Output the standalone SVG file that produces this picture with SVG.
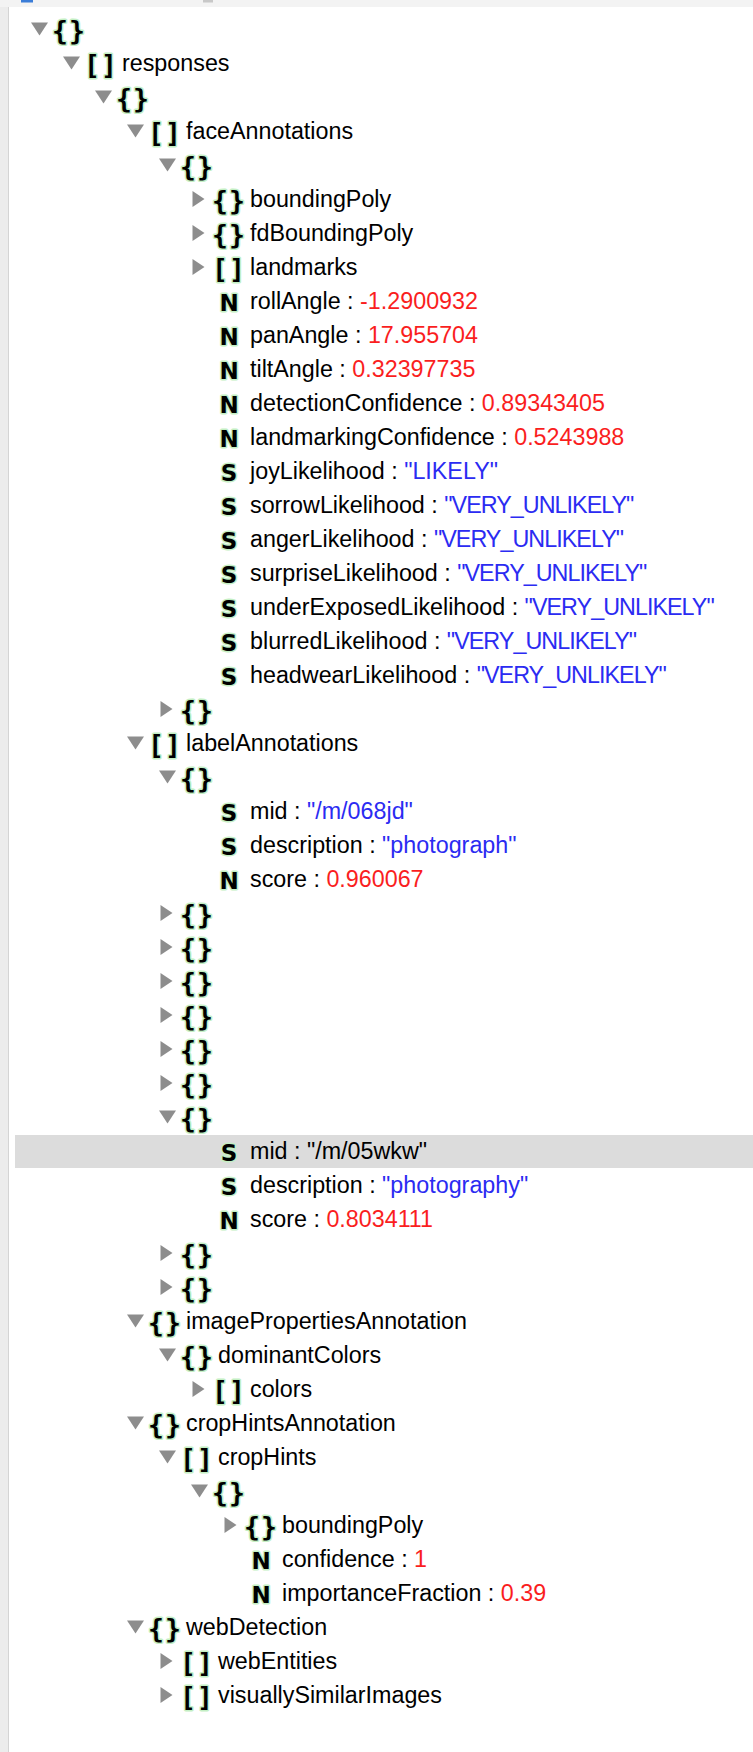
<svg xmlns="http://www.w3.org/2000/svg" xmlns:xlink="http://www.w3.org/1999/xlink" width="753" height="1752" viewBox="0 0 753 1752">
<style>
.tri{fill:#8d8d8d}
.br{font-family:"DejaVu Sans Mono",monospace;font-weight:bold;font-size:26.5px;fill:#000;stroke:#c4efc4;stroke-width:3;paint-order:stroke;stroke-linejoin:round;text-anchor:middle}
.ty{font-family:"DejaVu Sans",sans-serif;font-weight:bold;font-size:23px;fill:#000;stroke:#c4efc4;stroke-width:3;paint-order:stroke;stroke-linejoin:round;text-anchor:middle}
.lb{font-family:"Liberation Sans",Arial,sans-serif;font-size:23.3px;fill:#000}
.num{fill:#fa1e1e}
.str{fill:#2b2bf2}
.vu{letter-spacing:-0.95px}
</style>
<defs>
<path id="td" d="M-8.5,-6.5H8.5L0,6.5Z"/>
<path id="tr" d="M-6,-8V8L6,0Z"/>
</defs>
<rect x="0" y="0" width="753" height="1752" fill="#ffffff"/>
<rect x="0" y="0" width="753" height="7" fill="#f3f3f3"/>
<rect x="21" y="0" width="12" height="2.5" fill="#3b7dd8"/>
<rect x="203" y="0" width="10" height="2.5" fill="#c8c8c8"/>
<rect x="0" y="7" width="8" height="1745" fill="#ececec"/>
<rect x="8" y="7" width="1" height="1745" fill="#d4d4d4"/>
<rect id="selection" x="15" y="1135" width="738" height="33" fill="#dcdcdc"/>
<g id="connectors"></g>
<g id="n1" transform="translate(0,29)"><use href="#td" x="39.5" class="tri"/><text class="br" x="60" y="10.5">{</text><text class="br" x="77" y="10.5">}</text></g>
<g id="n2" transform="translate(32,63)"><use href="#td" x="39.5" class="tri"/><text class="br" x="60" y="10.5">[</text><text class="br" x="77" y="10.5">]</text><text class="lb" x="90" y="8">responses</text></g>
<g id="n3" transform="translate(64,97)"><use href="#td" x="39.5" class="tri"/><text class="br" x="60" y="10.5">{</text><text class="br" x="77" y="10.5">}</text></g>
<g id="n4" transform="translate(96,131)"><use href="#td" x="39.5" class="tri"/><text class="br" x="60" y="10.5">[</text><text class="br" x="77" y="10.5">]</text><text class="lb" x="90" y="8">faceAnnotations</text></g>
<g id="n5" transform="translate(128,165)"><use href="#td" x="39.5" class="tri"/><text class="br" x="60" y="10.5">{</text><text class="br" x="77" y="10.5">}</text></g>
<g id="n6" transform="translate(160,199)"><use href="#tr" x="38.5" class="tri"/><text class="br" x="60" y="10.5">{</text><text class="br" x="77" y="10.5">}</text><text class="lb" x="90" y="8">boundingPoly</text></g>
<g id="n7" transform="translate(160,233)"><use href="#tr" x="38.5" class="tri"/><text class="br" x="60" y="10.5">{</text><text class="br" x="77" y="10.5">}</text><text class="lb" x="90" y="8">fdBoundingPoly</text></g>
<g id="n8" transform="translate(160,267)"><use href="#tr" x="38.5" class="tri"/><text class="br" x="60" y="10.5">[</text><text class="br" x="77" y="10.5">]</text><text class="lb" x="90" y="8">landmarks</text></g>
<g id="n9" transform="translate(160,301)"><text class="ty" x="69" y="10">N</text><text class="lb" x="90" y="8">rollAngle : <tspan class="num">-1.2900932</tspan></text></g>
<g id="n10" transform="translate(160,335)"><text class="ty" x="69" y="10">N</text><text class="lb" x="90" y="8">panAngle : <tspan class="num">17.955704</tspan></text></g>
<g id="n11" transform="translate(160,369)"><text class="ty" x="69" y="10">N</text><text class="lb" x="90" y="8">tiltAngle : <tspan class="num">0.32397735</tspan></text></g>
<g id="n12" transform="translate(160,403)"><text class="ty" x="69" y="10">N</text><text class="lb" x="90" y="8">detectionConfidence : <tspan class="num">0.89343405</tspan></text></g>
<g id="n13" transform="translate(160,437)"><text class="ty" x="69" y="10">N</text><text class="lb" x="90" y="8">landmarkingConfidence : <tspan class="num">0.5243988</tspan></text></g>
<g id="n14" transform="translate(160,471)"><text class="ty" x="69" y="10">S</text><text class="lb" x="90" y="8">joyLikelihood : <tspan class="str">"LIKELY"</tspan></text></g>
<g id="n15" transform="translate(160,505)"><text class="ty" x="69" y="10">S</text><text class="lb" x="90" y="8">sorrowLikelihood : <tspan class="str vu">"VERY_UNLIKELY"</tspan></text></g>
<g id="n16" transform="translate(160,539)"><text class="ty" x="69" y="10">S</text><text class="lb" x="90" y="8">angerLikelihood : <tspan class="str vu">"VERY_UNLIKELY"</tspan></text></g>
<g id="n17" transform="translate(160,573)"><text class="ty" x="69" y="10">S</text><text class="lb" x="90" y="8">surpriseLikelihood : <tspan class="str vu">"VERY_UNLIKELY"</tspan></text></g>
<g id="n18" transform="translate(160,607)"><text class="ty" x="69" y="10">S</text><text class="lb" x="90" y="8">underExposedLikelihood : <tspan class="str vu">"VERY_UNLIKELY"</tspan></text></g>
<g id="n19" transform="translate(160,641)"><text class="ty" x="69" y="10">S</text><text class="lb" x="90" y="8">blurredLikelihood : <tspan class="str vu">"VERY_UNLIKELY"</tspan></text></g>
<g id="n20" transform="translate(160,675)"><text class="ty" x="69" y="10">S</text><text class="lb" x="90" y="8">headwearLikelihood : <tspan class="str vu">"VERY_UNLIKELY"</tspan></text></g>
<g id="n21" transform="translate(128,709)"><use href="#tr" x="38.5" class="tri"/><text class="br" x="60" y="10.5">{</text><text class="br" x="77" y="10.5">}</text></g>
<g id="n22" transform="translate(96,743)"><use href="#td" x="39.5" class="tri"/><text class="br" x="60" y="10.5">[</text><text class="br" x="77" y="10.5">]</text><text class="lb" x="90" y="8">labelAnnotations</text></g>
<g id="n23" transform="translate(128,777)"><use href="#td" x="39.5" class="tri"/><text class="br" x="60" y="10.5">{</text><text class="br" x="77" y="10.5">}</text></g>
<g id="n24" transform="translate(160,811)"><text class="ty" x="69" y="10">S</text><text class="lb" x="90" y="8">mid : <tspan class="str">"/m/068jd"</tspan></text></g>
<g id="n25" transform="translate(160,845)"><text class="ty" x="69" y="10">S</text><text class="lb" x="90" y="8">description : <tspan class="str">"photograph"</tspan></text></g>
<g id="n26" transform="translate(160,879)"><text class="ty" x="69" y="10">N</text><text class="lb" x="90" y="8">score : <tspan class="num">0.960067</tspan></text></g>
<g id="n27" transform="translate(128,913)"><use href="#tr" x="38.5" class="tri"/><text class="br" x="60" y="10.5">{</text><text class="br" x="77" y="10.5">}</text></g>
<g id="n28" transform="translate(128,947)"><use href="#tr" x="38.5" class="tri"/><text class="br" x="60" y="10.5">{</text><text class="br" x="77" y="10.5">}</text></g>
<g id="n29" transform="translate(128,981)"><use href="#tr" x="38.5" class="tri"/><text class="br" x="60" y="10.5">{</text><text class="br" x="77" y="10.5">}</text></g>
<g id="n30" transform="translate(128,1015)"><use href="#tr" x="38.5" class="tri"/><text class="br" x="60" y="10.5">{</text><text class="br" x="77" y="10.5">}</text></g>
<g id="n31" transform="translate(128,1049)"><use href="#tr" x="38.5" class="tri"/><text class="br" x="60" y="10.5">{</text><text class="br" x="77" y="10.5">}</text></g>
<g id="n32" transform="translate(128,1083)"><use href="#tr" x="38.5" class="tri"/><text class="br" x="60" y="10.5">{</text><text class="br" x="77" y="10.5">}</text></g>
<g id="n33" transform="translate(128,1117)"><use href="#td" x="39.5" class="tri"/><text class="br" x="60" y="10.5">{</text><text class="br" x="77" y="10.5">}</text></g>
<g id="n34" transform="translate(160,1151)"><text class="ty" x="69" y="10">S</text><text class="lb" x="90" y="8">mid : "/m/05wkw"</text></g>
<g id="n35" transform="translate(160,1185)"><text class="ty" x="69" y="10">S</text><text class="lb" x="90" y="8">description : <tspan class="str">"photography"</tspan></text></g>
<g id="n36" transform="translate(160,1219)"><text class="ty" x="69" y="10">N</text><text class="lb" x="90" y="8">score : <tspan class="num">0.8034111</tspan></text></g>
<g id="n37" transform="translate(128,1253)"><use href="#tr" x="38.5" class="tri"/><text class="br" x="60" y="10.5">{</text><text class="br" x="77" y="10.5">}</text></g>
<g id="n38" transform="translate(128,1287)"><use href="#tr" x="38.5" class="tri"/><text class="br" x="60" y="10.5">{</text><text class="br" x="77" y="10.5">}</text></g>
<g id="n39" transform="translate(96,1321)"><use href="#td" x="39.5" class="tri"/><text class="br" x="60" y="10.5">{</text><text class="br" x="77" y="10.5">}</text><text class="lb" x="90" y="8">imagePropertiesAnnotation</text></g>
<g id="n40" transform="translate(128,1355)"><use href="#td" x="39.5" class="tri"/><text class="br" x="60" y="10.5">{</text><text class="br" x="77" y="10.5">}</text><text class="lb" x="90" y="8">dominantColors</text></g>
<g id="n41" transform="translate(160,1389)"><use href="#tr" x="38.5" class="tri"/><text class="br" x="60" y="10.5">[</text><text class="br" x="77" y="10.5">]</text><text class="lb" x="90" y="8">colors</text></g>
<g id="n42" transform="translate(96,1423)"><use href="#td" x="39.5" class="tri"/><text class="br" x="60" y="10.5">{</text><text class="br" x="77" y="10.5">}</text><text class="lb" x="90" y="8">cropHintsAnnotation</text></g>
<g id="n43" transform="translate(128,1457)"><use href="#td" x="39.5" class="tri"/><text class="br" x="60" y="10.5">[</text><text class="br" x="77" y="10.5">]</text><text class="lb" x="90" y="8">cropHints</text></g>
<g id="n44" transform="translate(160,1491)"><use href="#td" x="39.5" class="tri"/><text class="br" x="60" y="10.5">{</text><text class="br" x="77" y="10.5">}</text></g>
<g id="n45" transform="translate(192,1525)"><use href="#tr" x="38.5" class="tri"/><text class="br" x="60" y="10.5">{</text><text class="br" x="77" y="10.5">}</text><text class="lb" x="90" y="8">boundingPoly</text></g>
<g id="n46" transform="translate(192,1559)"><text class="ty" x="69" y="10">N</text><text class="lb" x="90" y="8">confidence : <tspan class="num">1</tspan></text></g>
<g id="n47" transform="translate(192,1593)"><text class="ty" x="69" y="10">N</text><text class="lb" x="90" y="8">importanceFraction : <tspan class="num">0.39</tspan></text></g>
<g id="n48" transform="translate(96,1627)"><use href="#td" x="39.5" class="tri"/><text class="br" x="60" y="10.5">{</text><text class="br" x="77" y="10.5">}</text><text class="lb" x="90" y="8">webDetection</text></g>
<g id="n49" transform="translate(128,1661)"><use href="#tr" x="38.5" class="tri"/><text class="br" x="60" y="10.5">[</text><text class="br" x="77" y="10.5">]</text><text class="lb" x="90" y="8">webEntities</text></g>
<g id="n50" transform="translate(128,1695)"><use href="#tr" x="38.5" class="tri"/><text class="br" x="60" y="10.5">[</text><text class="br" x="77" y="10.5">]</text><text class="lb" x="90" y="8">visuallySimilarImages</text></g>
</svg>
